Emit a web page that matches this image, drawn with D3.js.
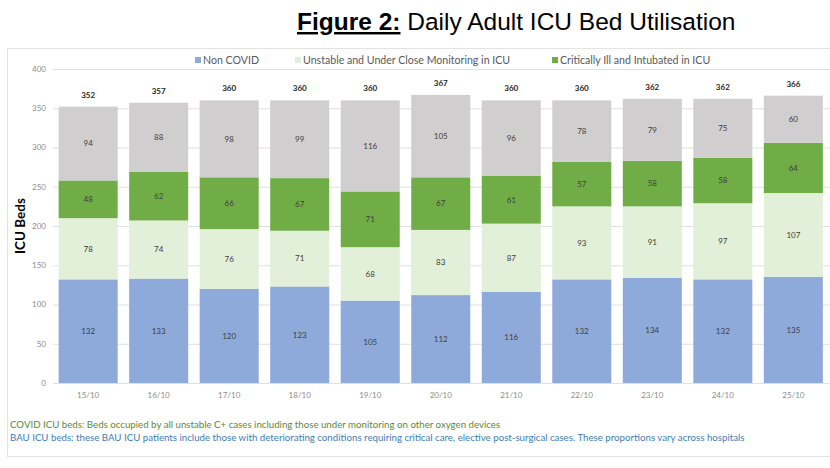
<!DOCTYPE html>
<html>
<head>
<meta charset="utf-8">
<script src="https://cdn.jsdelivr.net/npm/d3@7"></script>
<style>
  body { margin: 0; background: #fff; }
  svg { display: block; }
</style>
</head>
<body>
<div class="container"></div>
<script>
// DATA
const dates = ["15/10", "16/10", "17/10", "18/10", "19/10", "20/10", "21/10", "22/10", "23/10", "24/10", "25/10"];
const nonCovid = [132, 133, 120, 123, 105, 112, 116, 132, 134, 132, 135];
const unstable = [78, 74, 76, 71, 68, 83, 87, 93, 91, 97, 107];
const critical = [48, 62, 66, 67, 71, 67, 61, 57, 58, 58, 64];
const bau = [94, 88, 98, 99, 116, 105, 96, 78, 79, 75, 60];
const totals = [352, 357, 360, 360, 360, 367, 360, 360, 362, 362, 366];
const yTicks = [0, 50, 100, 150, 200, 250, 300, 350, 400];

const seriesKeys = ["nonCovid", "unstable", "critical", "bau"];
const seriesNames = ["Non COVID", "Unstable and Under Close Monitoring in ICU", "Critically Ill and Intubated in ICU", "BAU"];
const seriesColors = ["#8eaadb", "#e2efd9", "#70ad47", "#d0cece"];

// table for d3.stack
const table = dates.map((d, i) => ({
  date: d, nonCovid: nonCovid[i], unstable: unstable[i], critical: critical[i], bau: bau[i], total: totals[i]
}));

// FRAME
const W = 830, H = 468;
const font = "Lato, 'Open Sans', sans-serif";

const svg = d3.select(".container")
  .append("svg")
  .attr("width", W)
  .attr("height", H)
  .style("font-family", font);

// TITLE
const title = svg.append("text")
  .attr("x", 297)
  .attr("y", 30)
  .style("font-family", "'Liberation Sans', Arial, sans-serif")
  .style("font-size", "24.5px")
  .attr("fill", "#000");
title.append("tspan")
  .attr("font-weight", "bold")
  .attr("text-decoration", "underline")
  .text("Figure 2:");
title.append("tspan").text(" Daily Adult ICU Bed Utilisation");

// chart border
svg.append("rect")
  .attr("x", 7.5)
  .attr("y", 48.5)
  .attr("width", 840)
  .attr("height", 408)
  .attr("fill", "none")
  .attr("stroke", "#e3e3e3");

// SCALES
const x = d3.scaleBand()
  .domain(dates)
  .range([53, 828.5])
  .paddingInner(0.163)
  .paddingOuter(0.08);

const y = d3.scaleLinear()
  .domain([0, 400])
  .range([383, 69]);

// gridlines
svg.append("g")
  .selectAll("line")
  .data(yTicks)
  .join("line")
  .attr("x1", 53)
  .attr("x2", 840)
  .attr("y1", d => y(d) + 0.5)
  .attr("y2", d => y(d) + 0.5)
  .attr("stroke", "#e0e0e0")
  .attr("stroke-width", 1);

// y tick labels
svg.append("g")
  .selectAll("text")
  .data(yTicks)
  .join("text")
  .attr("x", 46)
  .attr("y", d => y(d))
  .attr("dy", "0.35em")
  .attr("text-anchor", "end")
  .style("font-size", "8px")
  .attr("fill", "#8c8c8c")
  .text(d => d);

// x tick labels
svg.append("g")
  .selectAll("text")
  .data(dates)
  .join("text")
  .attr("x", d => x(d) + x.bandwidth() / 2)
  .attr("y", 398)
  .attr("text-anchor", "middle")
  .style("font-size", "8px")
  .attr("fill", "#8c8c8c")
  .text(d => d);

// y title
svg.append("text")
  .attr("transform", `translate(25, ${(y(0) + y(400)) / 2}) rotate(-90)`)
  .attr("text-anchor", "middle")
  .style("font-size", "13.5px")
  .attr("font-weight", "bold")
  .attr("fill", "#000")
  .text("ICU Beds");

// STACK
const stacked = d3.stack().keys(seriesKeys)(table);

const layers = svg.append("g")
  .selectAll("g")
  .data(stacked)
  .join("g")
  .attr("fill", (d, i) => seriesColors[i]);

layers.selectAll("rect")
  .data(d => d)
  .join("rect")
  .attr("x", d => x(d.data.date))
  .attr("width", x.bandwidth())
  .attr("y", d => y(d[1]))
  .attr("height", d => y(d[0]) - y(d[1]));

layers.selectAll("text")
  .data(d => d)
  .join("text")
  .attr("x", d => x(d.data.date) + x.bandwidth() / 2)
  .attr("y", d => y((d[0] + d[1]) / 2))
  .attr("dy", "0.35em")
  .attr("text-anchor", "middle")
  .style("font-size", "8px")
  .attr("fill", "#404040")
  .text(d => d[1] - d[0]);

// totals
svg.append("g")
  .selectAll("text")
  .data(table)
  .join("text")
  .attr("x", d => x(d.date) + x.bandwidth() / 2)
  .attr("y", d => y(d.total) - 9)
  .attr("text-anchor", "middle")
  .style("font-size", "8px")
  .attr("font-weight", "bold")
  .attr("fill", "#262626")
  .text(d => d.total);

// LEGEND
const legendX = [195, 295, 552];
const legend = svg.append("g");
legendX.forEach((lx, i) => {
  legend.append("rect")
    .attr("x", lx)
    .attr("y", 57)
    .attr("width", 6)
    .attr("height", 6)
    .attr("fill", seriesColors[i]);
  legend.append("text")
    .attr("x", lx + 8)
    .attr("y", 60)
    .attr("dy", "0.35em")
    .style("font-size", "10.6px")
    .attr("fill", "#595959")
    .text(seriesNames[i]);
});

// NOTES
svg.append("text")
  .attr("x", 10)
  .attr("y", 428)
  .style("font-size", "9.7px")
  .attr("fill", "#5b8a32")
  .text("COVID ICU beds: Beds occupied by all unstable C+ cases including those under monitoring on other oxygen devices");

svg.append("text")
  .attr("x", 10)
  .attr("y", 441)
  .style("font-size", "9.7px")
  .attr("fill", "#3f7cb5")
  .text("BAU ICU beds: these BAU ICU patients include those with deteriorating conditions requiring critical care, elective post-surgical cases. These proportions vary across hospitals");
</script>
</body>
</html>
